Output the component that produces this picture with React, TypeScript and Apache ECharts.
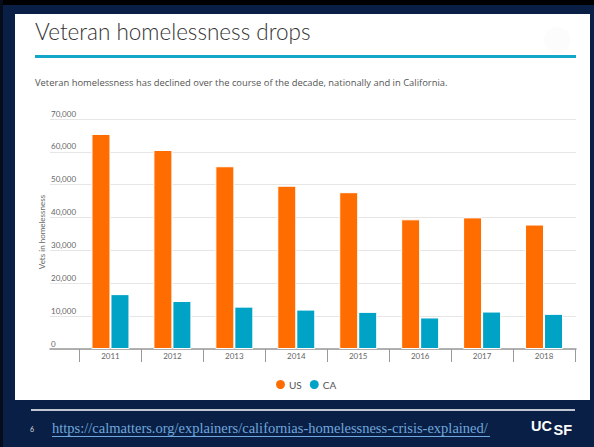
import React, { useEffect, useRef } from "react";
import * as echarts from "echarts";

const categories = ["2011", "2012", "2013", "2014", "2015", "2016", "2017", "2018"];
const usValues = [65455, 60579, 55619, 49689, 47725, 39471, 40056, 37878];
const caValues = [16700, 14600, 12900, 12000, 11300, 9600, 11400, 10700];
const seriesNames = ["US", "CA"];
const yTicks = { min: 0, max: 70000, interval: 10000 };

const TITLE = "Veteran homelessness drops";
const SUBTITLE =
  "Veteran homelessness has declined over the course of the decade, nationally and in California.";
const Y_NAME = "Vets in homelessness";
const URL = "https://calmatters.org/explainers/californias-homelessness-crisis-explained/";

const US_COLOR = "#ff6d00";
const CA_COLOR = "#00a3c6";
const FONT = "Lato, 'Open Sans', sans-serif";

export default function App() {
  const ref = useRef<HTMLDivElement>(null);
  useEffect(() => {
    if (!ref.current) return;
    const chart = echarts.init(ref.current, undefined, { renderer: "svg" });
    const gridTop = 119;
    const gridBottom = 98;
    const fmt = (v: number) => v.toLocaleString("en-US");
    chart.setOption({
      animation: false,
      backgroundColor: "transparent",
      textStyle: { fontFamily: FONT },
      grid: [
        { left: 50, right: 18, top: gridTop, bottom: gridBottom },
        { left: 79.5, right: 19, top: gridTop, bottom: gridBottom },
      ],
      legend: {
        data: seriesNames,
        left: 269,
        top: 373,
        icon: "circle",
        itemWidth: 11,
        itemHeight: 11,
        itemGap: 6,
        textStyle: { color: "#555", fontSize: 10, fontFamily: FONT, padding: [0, 0, 0, -2] },
      },
      xAxis: [
        {
          gridIndex: 0,
          type: "category",
          data: categories,
          axisLine: { show: true, lineStyle: { color: "#999", width: 1.5 } },
          axisTick: { show: false },
          axisLabel: { show: false },
          splitLine: { show: false },
        },
        {
          gridIndex: 1,
          type: "category",
          data: categories,
          axisLine: { show: false },
          axisTick: { show: true, length: 13, lineStyle: { color: "#999", width: 1 } },
          axisLabel: { color: "#666", fontSize: 8, margin: 3, fontFamily: FONT },
        },
      ],
      yAxis: [
        {
          gridIndex: 0,
          type: "value",
          min: yTicks.min,
          max: yTicks.max,
          interval: yTicks.interval,
          axisLine: { show: false },
          axisTick: { show: false },
          axisLabel: {
            inside: true,
            margin: 1,
            align: "left",
            verticalAlign: "bottom",
            color: "#666",
            fontSize: 8,
            lineHeight: 11,
            fontFamily: FONT,
            formatter: (v: number) => fmt(v),
          },
          splitLine: { show: true, lineStyle: { color: "#e6e6e6", width: 1 } },
        },
        {
          gridIndex: 1,
          type: "value",
          min: yTicks.min,
          max: yTicks.max,
          interval: yTicks.interval,
          show: false,
          splitLine: { show: false },
        },
      ],
      series: [
        {
          name: seriesNames[0],
          type: "bar",
          xAxisIndex: 1,
          yAxisIndex: 1,
          data: usValues,
          barWidth: 19,
          barGap: "0%",
          itemStyle: { color: US_COLOR, borderColor: "#fff", borderWidth: 1 },
        },
        {
          name: seriesNames[1],
          type: "bar",
          xAxisIndex: 1,
          yAxisIndex: 1,
          data: caValues,
          barWidth: 19,
          barGap: "0%",
          itemStyle: { color: CA_COLOR, borderColor: "#fff", borderWidth: 1 },
        },
      ],
      graphic: [
        {
          type: "text",
          left: 35,
          top: 20,
          style: { text: TITLE, fill: "#333", fontSize: 22.5, fontFamily: FONT, fontWeight: 300 },
        },
        {
          type: "circle",
          shape: { cx: 557, cy: 40, r: 13 },
          style: { fill: "#fcfcfc" },
        },
        {
          type: "line",
          shape: { x1: 35, y1: 56.5, x2: 576, y2: 56.5 },
          style: { stroke: "#12a6c9", lineWidth: 3 },
        },
        {
          type: "text",
          left: 35,
          top: 78,
          style: { text: SUBTITLE, fill: "#555", fontSize: 9.4, fontFamily: "'Open Sans', sans-serif" },
        },
        {
          type: "text",
          x: 42,
          y: 232,
          rotation: Math.PI / 2,
          style: {
            text: Y_NAME,
            fill: "#666",
            fontSize: 8,
            fontFamily: FONT,
            align: "center",
            verticalAlign: "middle",
          },
        },
        {
          type: "line",
          shape: { x1: 31, y1: 410, x2: 575, y2: 410 },
          style: { stroke: "#ffffff", lineWidth: 1.5 },
        },
        {
          type: "text",
          left: 30,
          top: 425,
          style: { text: "6", fill: "#ddd", fontSize: 7, fontFamily: FONT },
        },
        {
          type: "text",
          left: 52,
          top: 420,
          style: {
            text: URL,
            fill: "#6ea8de",
            fontSize: 14.5,
            fontFamily: "'Liberation Serif', 'DejaVu Serif', serif",
          },
        },
        {
          type: "line",
          shape: { x1: 52, y1: 436.5, x2: 490, y2: 436.5 },
          style: { stroke: "#6ea8de", lineWidth: 1 },
        },
        {
          type: "text",
          left: 531,
          top: 418,
          style: {
            text: "UC",
            fill: "#fff",
            fontSize: 14.5,
            fontWeight: "bold",
            fontFamily: "'Liberation Sans', Arial, sans-serif",
          },
        },
        {
          type: "text",
          left: 553.5,
          top: 422,
          style: {
            text: "SF",
            fill: "#fff",
            fontSize: 14.5,
            fontWeight: "bold",
            fontFamily: "'Liberation Sans', Arial, sans-serif",
          },
        },
      ],
    });
    return () => chart.dispose();
  }, []);

  return (
    <div
      style={{
        position: "fixed",
        left: 0,
        top: 0,
        width: 594,
        height: 447,
        background: "#0a1f45",
        overflow: "hidden",
      }}
    >
      <div style={{ position: "absolute", left: 0, top: 0, width: 594, height: 5, background: "#000" }} />
      <div style={{ position: "absolute", left: 0, top: 0, width: 3, height: 447, background: "#050d1c" }} />
      <div
        style={{ position: "absolute", left: 15, top: 14, width: 575, height: 386, background: "#fff" }}
      />
      <div ref={ref} style={{ position: "absolute", left: 0, top: 0, width: 594, height: 447 }} />
    </div>
  );
}
